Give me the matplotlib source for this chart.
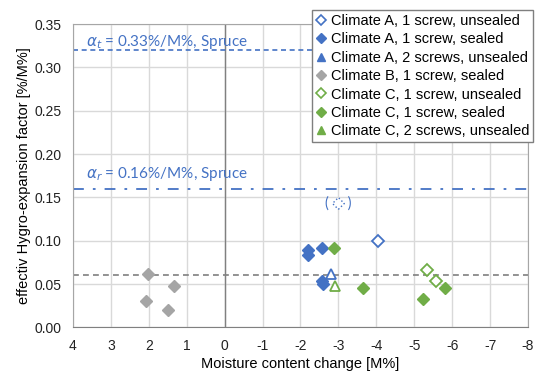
import matplotlib
matplotlib.use("Agg")
import matplotlib.pyplot as plt
from matplotlib.lines import Line2D

plt.rcParams['font.family'] = ['Liberation Sans', 'DejaVu Sans']
plt.rcParams['axes.unicode_minus'] = False

BLUE = '#4472C4'
GREEN = '#70AD47'
GREY = '#A5A5A5'

# moisture content change [M%] and effective hygro-expansion factor [%/M%]
a1_unsealed_x = [-4.05]
a1_unsealed_y = [0.100]
a1_sealed_x = [-2.19, -2.19, -2.58, -2.58, -2.60]
a1_sealed_y = [0.089, 0.084, 0.092, 0.054, 0.050]
a2_unsealed_x = [-2.80]
a2_unsealed_y = [0.062]
b1_sealed_x = [2.03, 1.34, 2.08, 1.50]
b1_sealed_y = [0.062, 0.048, 0.031, 0.020]
c1_unsealed_x = [-5.33, -5.57]
c1_unsealed_y = [0.066, 0.054]
c1_sealed_x = [-2.89, -3.65, -5.81, -5.23]
c1_sealed_y = [0.092, 0.046, 0.046, 0.033]
c2_unsealed_x = [-2.90]
c2_unsealed_y = [0.048]
outlier_x = [-3.0]
outlier_y = [0.143]

alpha_t = 0.32
alpha_r = 0.16
mean_level = 0.06

fig = plt.figure(figsize=(5.35, 3.71), dpi=100)
ax = fig.add_axes([0.1364, 0.1173, 0.8505, 0.818])

ax.set_xlim(4, -8)
ax.set_ylim(0, 0.35)
ax.set_xticks(range(4, -9, -1))
ax.set_yticks([0, 0.05, 0.10, 0.15, 0.20, 0.25, 0.30, 0.35])
ax.set_yticklabels(['%.2f' % v for v in ax.get_yticks()])
ax.grid(True, color='#D9D9D9', linewidth=1.0)
ax.set_axisbelow(True)
ax.tick_params(length=0, labelsize=10, colors='#222222')
ax.tick_params(axis='x', pad=8)
ax.tick_params(axis='y', pad=8)
for side in ['top', 'right', 'left']:
    ax.spines[side].set_color('#A6A6A6')
ax.spines['bottom'].set_color('#808080')
ax.axvline(0, color='#808080', linewidth=1.0, zorder=1)

ax.set_xlabel('Moisture content change [M%]', fontsize=10.5, labelpad=3)
ax.set_ylabel('effectiv Hygro-expansion factor [%/M%]', fontsize=10.5, labelpad=3)

# reference lines
ax.axhline(alpha_t, color=BLUE, linestyle=(0, (3, 2.2)), linewidth=1.2, zorder=2)
ax.axhline(alpha_r, color=BLUE, linestyle=(0, (6, 5, 1.5, 5)), linewidth=1.3, zorder=2)
ax.axhline(mean_level, color='#7F7F7F', linestyle=(0, (3.5, 2.5)), linewidth=1.2, zorder=2)
ax.text(3.66, 0.325, r'$\alpha_t$ = 0.33%/M%, Spruce', color=BLUE, fontsize=11,
        family=['Lato', 'DejaVu Sans'], va='baseline')
ax.text(3.66, 0.172, r'$\alpha_r$ = 0.16%/M%, Spruce', color=BLUE, fontsize=11,
        family=['Lato', 'DejaVu Sans'], va='baseline')

ms = 6.5
ax.plot(a1_unsealed_x, a1_unsealed_y, 'D', ms=ms, mfc='white', mec=BLUE, mew=1.3, zorder=4)
ax.plot(a1_sealed_x, a1_sealed_y, 'D', ms=ms, color=BLUE, zorder=4)
ax.plot(a2_unsealed_x, a2_unsealed_y, '^', ms=ms + 1, mfc='white', mec=BLUE, mew=1.3, zorder=4)
ax.plot(b1_sealed_x, b1_sealed_y, 'D', ms=ms, color=GREY, zorder=4)
ax.plot(c1_unsealed_x, c1_unsealed_y, 'D', ms=ms, mfc='white', mec=GREEN, mew=1.3, zorder=4)
ax.plot(c1_sealed_x, c1_sealed_y, 'D', ms=ms, color=GREEN, zorder=4)
ax.plot(c2_unsealed_x, c2_unsealed_y, '^', ms=ms + 1, mfc='white', mec=GREEN, mew=1.3, zorder=4)

# excluded measurement, shown in brackets
ax.scatter(outlier_x, outlier_y, marker='D', s=36, facecolors='white', edgecolors=BLUE,
           linestyles=':', linewidths=1.0, zorder=4)
ax.text(outlier_x[0], outlier_y[0], '(     )', color=BLUE, fontsize=10.5, ha='center', va='center',
        family=['Lato', 'DejaVu Sans'], zorder=5)

handles = [
    Line2D([], [], marker='D', ls='none', ms=5, mfc='white', mec=BLUE, mew=1.2),
    Line2D([], [], marker='D', ls='none', ms=5, color=BLUE),
    Line2D([], [], marker='^', ls='none', ms=6, color=BLUE),
    Line2D([], [], marker='D', ls='none', ms=5, color=GREY),
    Line2D([], [], marker='D', ls='none', ms=5, mfc='white', mec=GREEN, mew=1.2),
    Line2D([], [], marker='D', ls='none', ms=5, color=GREEN),
    Line2D([], [], marker='^', ls='none', ms=6, color=GREEN),
]
labels = ['Climate A, 1 screw, unsealed', 'Climate A, 1 screw, sealed',
          'Climate A, 2 screws, unsealed', 'Climate B, 1 screw, sealed',
          'Climate C, 1 screw, unsealed', 'Climate C, 1 screw, sealed',
          'Climate C, 2 screws, unsealed']
leg = fig.legend(handles, labels, loc='upper right', bbox_to_anchor=(0.997, 0.972),
                 fontsize=10.5, frameon=True, fancybox=False, framealpha=1,
                 edgecolor='#7F7F7F', borderpad=0.25, labelspacing=0.3,
                 handlelength=0.8, handletextpad=0.3, borderaxespad=0)
leg.get_frame().set_linewidth(1.0)

fig.savefig('out.png', dpi=100)
